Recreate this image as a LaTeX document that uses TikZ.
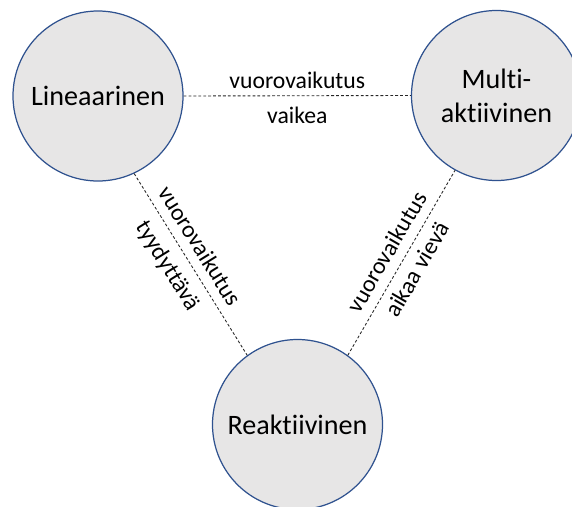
\documentclass[tikz,border=0pt]{standalone}
\usepackage{fontspec}
\setmainfont{Carlito}[Ligatures=NoCommon]
\definecolor{ringblue}{RGB}{47,82,143}
\definecolor{ringfill}{RGB}{231,230,230}

\begin{document}
\begin{tikzpicture}[
  tapa/.style={circle,draw=ringblue,fill=ringfill,line width=0.7pt,minimum size=3.4cm,inner sep=0pt,align=center,font=\fontsize{16}{19.5}\selectfont},
  yhteys/.style={draw=black!85,line width=0.5pt,dash pattern=on 1.6pt off 1.2pt},
  selite/.style={font=\fontsize{13.5}{16}\selectfont,sloped}
]
\useasboundingbox (0,0) rectangle (11.44,10.12);
\clip (0,0) rectangle (11.44,10.12);

% the three styles
\node[tapa] (lin) at (1.96,8.2) {Lineaarinen};
\node[tapa] (multi) at (9.93,8.21) {Multi-\\aktiivinen};
\node[tapa] (reak) at (5.95,1.63) {Reaktiivinen};

% links between them
\draw[yhteys] (lin.east) -- (multi.west)
  node[selite,midway,above=0.6pt] (l1) {vuorovaikutus}
  node[selite,midway,below=3pt] (l2) {vaikea}; %top
\draw[yhteys] (lin.-65) -- (reak.126.5)
  node[selite,pos=0.45,above=2pt] (l3) {vuorovaikutus}
  node[selite,pos=0.45,below=2.5pt] (l4) {tyydyttävä}; %left
\draw[yhteys] (reak.54) -- (multi.241)
  node[selite,pos=0.51,above=2pt] (l5) {vuorovaikutus}
  node[selite,pos=0.51,below=1pt] (l6) {aikaa vievä}; %right

\end{tikzpicture}
\end{document}
